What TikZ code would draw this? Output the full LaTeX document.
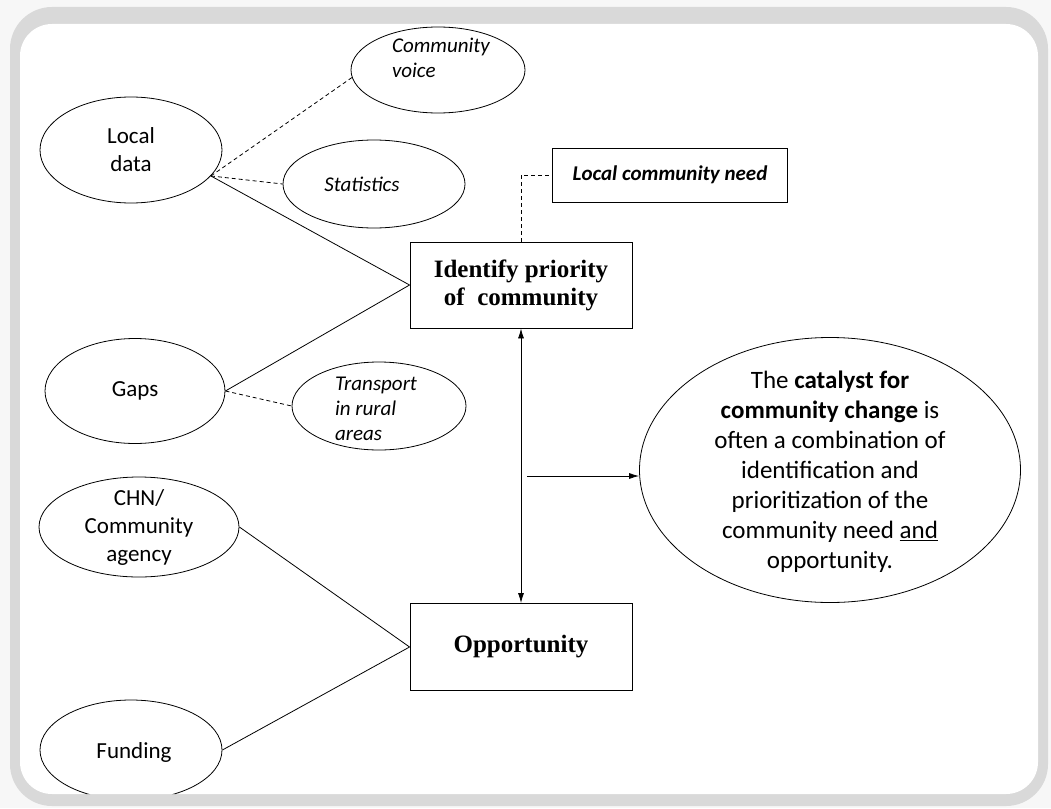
\documentclass[tikz,border=0pt]{standalone}
\usepackage{fontspec}
\setmainfont{Carlito}
\newfontfamily\boxfont{Liberation Serif}
\usetikzlibrary{arrows.meta,positioning,shapes.geometric}

\begin{document}
\begin{tikzpicture}[x=1pt, y=-1pt,
    oval/.style 2 args={ellipse, draw, line width=0.8pt, inner sep=0pt, minimum width=#1pt, minimum height=#2pt},
    box/.style 2 args={rectangle, draw, line width=0.9pt, inner sep=0pt, minimum width=#1pt, minimum height=#2pt},
    txt/.style={font=\fontsize{23}{28}\selectfont, align=center},
    itxt/.style={font=\fontsize{21}{25}\selectfont\itshape, align=left},
    btxt/.style={font=\boxfont\bfseries\fontsize{25}{28}\selectfont, align=center},
    link/.style={line width=0.8pt},
    dlink/.style={link, dash pattern=on 4pt off 3pt},
    arr/.style={link, -{Latex[length=10pt,width=6pt]}}
]
    \useasboundingbox (0,0) rectangle (1051,808);
    % page and frame
    \fill[gray!6] (0,0) rectangle (1051,808);
    \fill[gray!30, rounded corners=42pt] (10,7) rectangle (1048,806);
    \fill[white, rounded corners=32pt] (20,24) rectangle (1038,794);

    \begin{scope}
    \clip[rounded corners=32pt] (20,24) rectangle (1038,794);
    % left side: inputs
    \node[oval={182}{106}] (ld) at (131,150) {};
    \node[txt] (ldtext) at (ld) {Local\\data};
    \node[oval={174}{86}] (cv) at (438,70) {};
    \node[itxt] (cvtext) at (441,70) {Community\\voice\\\mbox{}};
    \node[oval={182}{88}] (st) at (374,184) {};
    \node[itxt] (sttext) at (362,184) {Statistics};
    \node[oval={180}{105}] (gaps) at (135,391) {};
    \node[txt] (gapstext) at (gaps) {Gaps};
    \node[oval={174}{88}] (tr) at (379,406) {};
    \node[itxt] (trtext) at (376,409) {Transport\\in rural\\areas};
    \node[oval={200}{100}] (chn) at (139,527) {};
    \node[txt] (chntext) at (chn) {CHN/\\Community\\agency};
    \node[oval={182}{100}] (fund) at (131,750) {};
    \node[txt] (fundtext) at (134,752) {Funding};

    % middle: boxes
    \node[box={222}{86}, btxt] (idp) at (521,285) {Identify priority\\of\ \ community};
    \node[box={235}{54}, font=\fontsize{21}{25}\selectfont\bfseries\itshape] (lcn) at (670,175) {Local community need};
    \node[box={222}{87}, btxt] (opp) at (521,647) {Opportunity};

    % right: outcome
    \node[oval={381}{265}] (cat) at (830,470) {};
    \node[font=\fontsize{25}{30}\selectfont, align=center] (cattext) at (830,472)
        {The \textbf{catalyst for}\\\textbf{community change} is\\often a combination of\\identification and\\prioritization of the\\community need \underline{and}\\opportunity.};

    % connectors
    \draw[dlink] (ld.-18) -- (cv.185);
    \draw[dlink] (ld.-18) -- (st.west);
    \draw[link] (ld.-18) -- (idp.west);
    \draw[link] (gaps.east) -- (idp.west);
    \draw[dlink] (gaps.east) -- (tr.west);
    \draw[dlink] (idp.north) |- (lcn.west);
    \draw[link, {Latex[length=10pt,width=6pt]}-{Latex[length=10pt,width=6pt]}] (idp.south) -- (opp.north);
    \coordinate (br) at (527,476);
    \draw[arr] (br) -- (br -| cat.west);
    \draw[link] (chn.east) -- (opp.west);
    \draw[link] (fund.east) -- (opp.west);
    \end{scope}
\end{tikzpicture}
\end{document}
